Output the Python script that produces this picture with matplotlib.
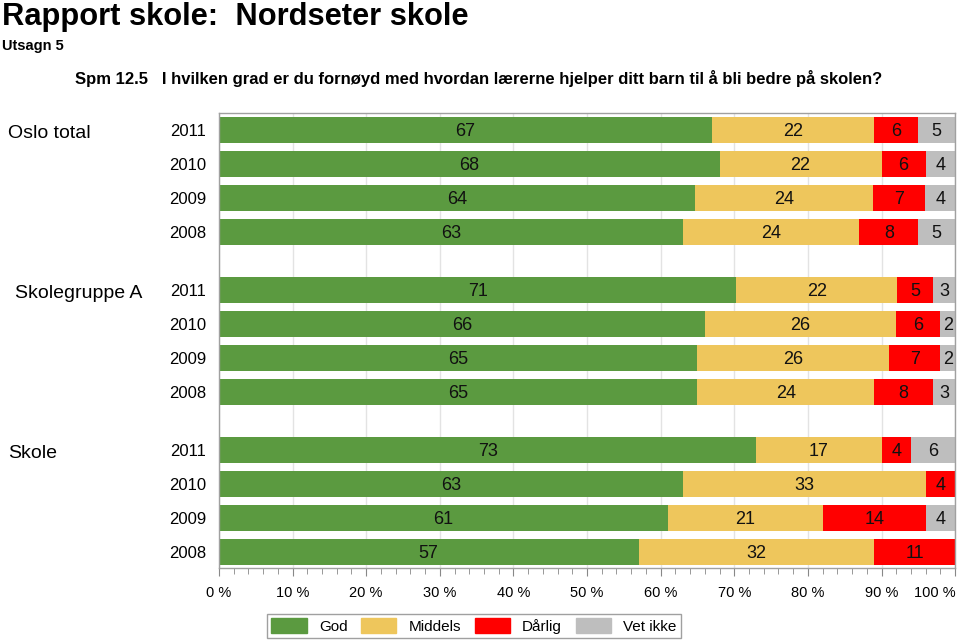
import matplotlib

matplotlib.use("Agg")
import matplotlib.pyplot as plt
import matplotlib.patches as mpatches
import numpy as np
from matplotlib.ticker import MultipleLocator

plt.rcParams["font.family"] = ["Liberation Sans", "DejaVu Sans"]

# ── Data ─────────────────────────────────────────────────────────
groups = ["Oslo total", "Skolegruppe A", "Skole"]
years = ["2011", "2010", "2009", "2008"]
categories = ["God", "Middels", "Dårlig", "Vet ikke"]
colors = ["#5B9A40", "#EEC65C", "#FF0000", "#BEBEBE"]
xticks = [0, 10, 20, 30, 40, 50, 60, 70, 80, 90, 100]

god = [67, 68, 64, 63, 71, 66, 65, 65, 73, 63, 61, 57]
middels = [22, 22, 24, 24, 22, 26, 26, 24, 17, 33, 21, 32]
darlig = [6, 6, 7, 8, 5, 6, 7, 8, 4, 4, 14, 11]
vet_ikke = [5, 4, 4, 5, 3, 2, 2, 3, 6, 0, 4, 0]

# ── Layout helpers ───────────────────────────────────────────────
vals = np.array([god, middels, darlig, vet_ikke], dtype=float)
shares = vals / vals.sum(axis=0) * 100
group_step = 4.706
pos = np.array([g * group_step + i for g in range(len(groups)) for i in range(len(years))])

fig = plt.figure(figsize=(9.6, 6.43), dpi=100)
ax = fig.add_axes([0.228, 0.1166, 0.767, 0.7076])

left = np.zeros(len(pos))
for k, cat in enumerate(categories):
    ax.barh(pos, shares[k], left=left, height=0.765, color=colors[k], linewidth=0, zorder=2)
    for j in range(len(pos)):
        if vals[k, j] > 0:
            ax.text(left[j] + shares[k, j] / 2, pos[j] + 0.05, f"{int(vals[k, j])}",
                    ha="center", va="center", fontsize=13, color="#111111", zorder=3)
    left += shares[k]

ax.set_xlim(0, 100)
ax.set_ylim(pos[-1] + 0.47, -0.5)
ax.set_xticks(xticks, labels=[f"{t} %" for t in xticks])
ax.xaxis.set_minor_locator(MultipleLocator(2))
ax.tick_params(axis="x", which="major", length=6, color="#888888", labelsize=10.5, pad=7)
ax.tick_params(axis="x", which="minor", length=4, color="#888888")
ax.get_xticklabels()[-1].set_horizontalalignment("right")
ax.grid(axis="x", which="major", color="#E3E3E3", linewidth=1, zorder=0)
ax.set_yticks(pos)
ax.set_yticklabels(years * len(groups), fontsize=12)
ax.tick_params(axis="y", length=0, pad=9)
for sp in ax.spines.values():
    sp.set_color("#A0A0A0")
    sp.set_linewidth(1)

label_x = [8, 15, 8]
for g, name in enumerate(groups):
    fig.text(label_x[g] / 960, 1 - (pos[g * 4] * 34 + 130 + 3) / 643, name, fontsize=14,
             ha="left", va="center")

# ── Titles ───────────────────────────────────────────────────────
fig.text(0.002, 0.974, "Rapport skole:  Nordseter skole", fontsize=22.2, fontweight="bold",
         ha="left", va="center")
fig.text(0.002, 0.928, "Utsagn 5", fontsize=10.5, fontweight="bold", ha="left", va="center")
fig.text(75 / 960, 0.878,
         "Spm 12.5   I hvilken grad er du fornøyd med hvordan lærerne hjelper ditt barn til å bli bedre på skolen?",
         fontsize=12, fontweight="bold", ha="left", va="center")

# ── Legend ───────────────────────────────────────────────────────
handles = [mpatches.Patch(color=c, label=l) for c, l in zip(colors, categories)]
leg = fig.legend(handles=handles, loc="center", bbox_to_anchor=(474 / 960, 1 - 626 / 643),
                 ncol=4, frameon=True, fancybox=False, edgecolor="#888888",
                 prop={"size": 11}, handlelength=2.3, handleheight=1.15,
                 columnspacing=0.9, handletextpad=0.8, borderpad=0.3)
leg.get_frame().set_linewidth(1)

fig.savefig("out.png", dpi=100)
